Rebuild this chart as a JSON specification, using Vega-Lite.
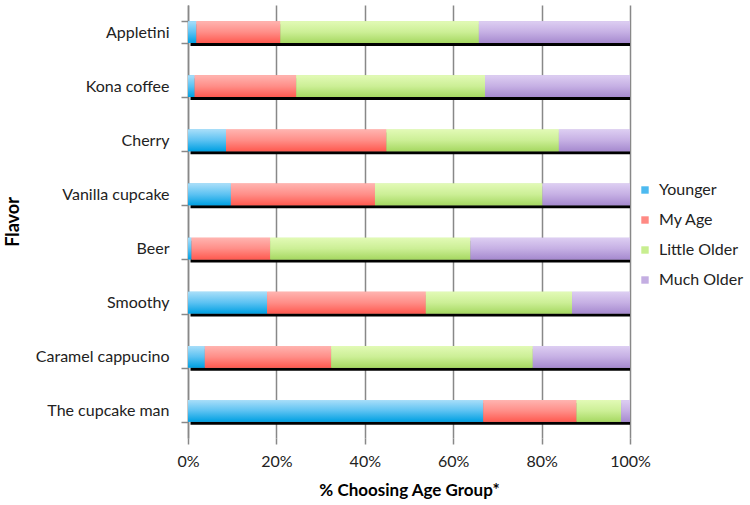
{
  "$schema": "https://vega.github.io/schema/vega-lite/v6.json",
  "width": 442,
  "height": 433,
  "autosize": "none",
  "padding": {"left": 188, "top": 5, "right": 120, "bottom": 67},
  "background": "white",
  "config": {
    "font": "Lato",
    "view": {"stroke": null}
  },
  "data": {
    "values": [
      {"flavor": "Appletini", "group": "Younger", "order": 1, "pct": 1.9},
      {"flavor": "Appletini", "group": "My Age", "order": 2, "pct": 19.0},
      {"flavor": "Appletini", "group": "Little Older", "order": 3, "pct": 44.9},
      {"flavor": "Appletini", "group": "Much Older", "order": 4, "pct": 34.2},
      {"flavor": "Kona coffee", "group": "Younger", "order": 1, "pct": 1.5},
      {"flavor": "Kona coffee", "group": "My Age", "order": 2, "pct": 23.0},
      {"flavor": "Kona coffee", "group": "Little Older", "order": 3, "pct": 42.7},
      {"flavor": "Kona coffee", "group": "Much Older", "order": 4, "pct": 32.8},
      {"flavor": "Cherry", "group": "Younger", "order": 1, "pct": 8.6},
      {"flavor": "Cherry", "group": "My Age", "order": 2, "pct": 36.3},
      {"flavor": "Cherry", "group": "Little Older", "order": 3, "pct": 39.0},
      {"flavor": "Cherry", "group": "Much Older", "order": 4, "pct": 16.1},
      {"flavor": "Vanilla cupcake", "group": "Younger", "order": 1, "pct": 9.7},
      {"flavor": "Vanilla cupcake", "group": "My Age", "order": 2, "pct": 32.6},
      {"flavor": "Vanilla cupcake", "group": "Little Older", "order": 3, "pct": 37.9},
      {"flavor": "Vanilla cupcake", "group": "Much Older", "order": 4, "pct": 19.8},
      {"flavor": "Beer", "group": "Younger", "order": 1, "pct": 0.8},
      {"flavor": "Beer", "group": "My Age", "order": 2, "pct": 17.8},
      {"flavor": "Beer", "group": "Little Older", "order": 3, "pct": 45.3},
      {"flavor": "Beer", "group": "Much Older", "order": 4, "pct": 36.1},
      {"flavor": "Smoothy", "group": "Younger", "order": 1, "pct": 17.9},
      {"flavor": "Smoothy", "group": "My Age", "order": 2, "pct": 35.9},
      {"flavor": "Smoothy", "group": "Little Older", "order": 3, "pct": 33.1},
      {"flavor": "Smoothy", "group": "Much Older", "order": 4, "pct": 13.1},
      {"flavor": "Caramel cappucino", "group": "Younger", "order": 1, "pct": 3.8},
      {"flavor": "Caramel cappucino", "group": "My Age", "order": 2, "pct": 28.6},
      {"flavor": "Caramel cappucino", "group": "Little Older", "order": 3, "pct": 45.6},
      {"flavor": "Caramel cappucino", "group": "Much Older", "order": 4, "pct": 22.0},
      {"flavor": "The cupcake man", "group": "Younger", "order": 1, "pct": 66.8},
      {"flavor": "The cupcake man", "group": "My Age", "order": 2, "pct": 21.1},
      {"flavor": "The cupcake man", "group": "Little Older", "order": 3, "pct": 10.1},
      {"flavor": "The cupcake man", "group": "Much Older", "order": 4, "pct": 2.0}
    ]
  },
  "transform": [
    {"stack": "pct", "groupby": ["flavor"], "sort": [{"field": "order", "order": "ascending"}], "as": ["x0", "x1"], "offset": "normalize"}
  ],
  "encoding": {
    "y": {
      "field": "flavor",
      "type": "nominal",
      "sort": ["Appletini", "Kona coffee", "Cherry", "Vanilla cupcake", "Beer", "Smoothy", "Caramel cappucino", "The cupcake man"],
      "scale": {"paddingInner": 0.6, "paddingOuter": 0.3},
      "title": "Flavor",
      "axis": {
        "tickBand": "extent",
        "tickSize": 7,
        "tickColor": "#888888",
        "tickWidth": 1.5,
        "domainColor": "#888888",
        "domainWidth": 1.5,
        "labelFontSize": 16,
        "labelColor": "#222222",
        "labelPadding": 12,
        "titleFontSize": 18,
        "titleFontWeight": "bold",
        "titleColor": "#000000",
        "titleX": -166,
        "titlePadding": 10
      }
    },
    "x": {
      "field": "x0",
      "type": "quantitative",
      "scale": {"domain": [0, 1], "nice": false},
      "title": "% Choosing Age Group*",
      "axis": {
        "format": ".0%",
        "values": [0, 0.2, 0.4, 0.6, 0.8, 1],
        "labelFlush": false,
        "grid": true,
        "gridColor": "#888888",
        "gridWidth": 1.5,
        "domain": false,
        "tickSize": 6,
        "tickColor": "#888888",
        "tickWidth": 1.5,
        "labelFontSize": 16,
        "labelColor": "#222222",
        "labelPadding": 9,
        "titleFontSize": 17,
        "titleFontWeight": "bold",
        "titleColor": "#000000",
        "titlePadding": 13
      }
    },
    "x2": {"field": "x1"}
  },
  "layer": [
    {
      "transform": [
        {"aggregate": [{"op": "min", "field": "x0", "as": "x0"}, {"op": "max", "field": "x1", "as": "x1"}], "groupby": ["flavor"]}
      ],
      "mark": {"type": "bar", "color": "#000000", "xOffset": 2.5, "yOffset": 3}
    },
    {
      "mark": {"type": "bar"},
      "encoding": {
        "color": {
          "field": "group",
          "type": "nominal",
          "sort": ["Younger", "My Age", "Little Older", "Much Older"],
          "scale": {
            "domain": ["Younger", "My Age", "Little Older", "Much Older"],
            "range": ["#4DBAF0", "#FF8A84", "#C8EE90", "#C4AEE2"]
          },
          "legend": {
            "title": null,
            "orient": "none",
            "legendX": 449,
            "legendY": 177,
            "symbolType": "square",
            "symbolSize": 55,
            "symbolStrokeWidth": 0,
            "labelFontSize": 16,
            "labelColor": "#222222",
            "rowPadding": 14,
            "labelOffset": 6
          }
        }
      }
    },
    {
      "transform": [{"filter": "datum.group === 'Younger'"}],
      "mark": {"type": "bar", "color": {"gradient": "linear", "x1": 0, "y1": 0, "x2": 0, "y2": 1, "stops": [{"offset": 0, "color": "#A8DEF9"}, {"offset": 0.5, "color": "#5CC2F2"}, {"offset": 1, "color": "#00A0E2"}]}}
    },
    {
      "transform": [{"filter": "datum.group === 'My Age'"}],
      "mark": {"type": "bar", "color": {"gradient": "linear", "x1": 0, "y1": 0, "x2": 0, "y2": 1, "stops": [{"offset": 0, "color": "#FFB4B0"}, {"offset": 0.5, "color": "#FF8E88"}, {"offset": 1, "color": "#FF5A50"}]}}
    },
    {
      "transform": [{"filter": "datum.group === 'Little Older'"}],
      "mark": {"type": "bar", "color": {"gradient": "linear", "x1": 0, "y1": 0, "x2": 0, "y2": 1, "stops": [{"offset": 0, "color": "#E2FAB6"}, {"offset": 0.5, "color": "#CCEF96"}, {"offset": 1, "color": "#A6D862"}]}}
    },
    {
      "transform": [{"filter": "datum.group === 'Much Older'"}],
      "mark": {"type": "bar", "color": {"gradient": "linear", "x1": 0, "y1": 0, "x2": 0, "y2": 1, "stops": [{"offset": 0, "color": "#DDCEF2"}, {"offset": 0.5, "color": "#C6B0E4"}, {"offset": 1, "color": "#A68ACF"}]}}
    }
  ]
}
